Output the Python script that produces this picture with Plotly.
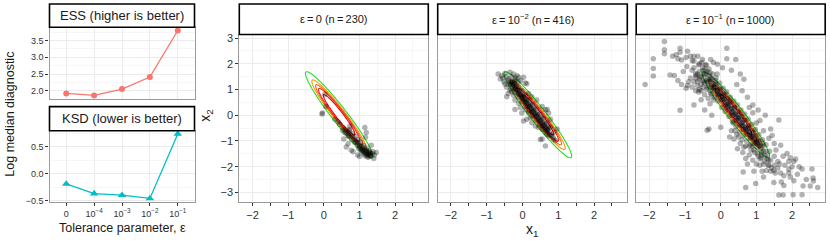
import numpy as np
import plotly.graph_objects as go

FONT = "Liberation Sans, Arial, Helvetica, sans-serif"

# ---------------- left panels: diagnostics ----------------
eps_pos = [0, 1, 2, 3, 4]
eps_labels = ["0", "10<sup>−4</sup>", "10<sup>−3</sup>", "10<sup>−2</sup>", "10<sup>−1</sup>"]
ess_values = [1.92, 1.86, 2.05, 2.41, 3.80]
ksd_values = [-0.19, -0.37, -0.40, -0.46, 0.74]

# ---------------- target distribution (contours) ----------------
target_mean = [0.43, 0.02]
target_sd = [0.315, 0.558]
target_rho = -0.96
contour_levels = [9.0, 5.9, 4.4, 3.4, 2.0]          # squared Mahalanobis distance
contour_colors = ["#22DD22", "#F29A0E", "#EE6A10", "#FF2020", "#E00000"]

panel_titles = ["ε\u2009=\u20090 (n\u2009=\u2009230)",
                "ε\u2009=\u200910<sup>−2</sup> (n\u2009=\u2009416)",
                "ε\u2009=\u200910<sup>−1</sup> (n\u2009=\u20091000)"]

# ---------------- samples, eps = 0 ----------------
p1_x = [0.03, -0.04, -0.05, 0.06, 0.31, 0.40, 0.45, 0.54, 0.73, 1.19, 1.15, 0.56, 0.63, 0.77, 0.68, 1.17, 1.38, 1.33, 1.00, 0.82, 1.28, 1.42, 1.47, 1.40, 0.95,
        0.60, 0.65, 0.70, 0.75, 0.80, 0.85, 0.90, 0.95, 1.00, 1.05, 1.10, 1.15, 1.20, 1.25, 1.30,
        0.62, 0.70, 0.78, 0.86, 0.94, 1.02, 1.10, 1.18, 1.26,
        0.72, 0.80, 0.88, 0.96, 1.04, 1.12, 1.20, 1.28, 1.36,
        1.08, 1.15, 1.22, 1.12, 1.25, 1.18, 1.30, 1.05, 0.98, 1.22,
        0.52, 0.58, 0.72, 0.68,
        1.10, 1.20, 1.28, 1.00, 0.90, 1.15, 1.32, 1.05]
p1_y = [0.81, 0.09, 0.05, 0.34, -0.16, -0.25, -0.35, -0.48, -0.42, -0.67, -0.48, -0.92, -1.24, -1.36, -1.11, -0.86, -1.42, -1.17, -1.61, -1.42, -1.55, -1.55, -1.45, -1.68, -1.55,
        -0.55, -0.62, -0.70, -0.78, -0.85, -0.92, -1.00, -1.08, -1.15, -1.22, -1.30, -1.37, -1.45, -1.50, -1.56,
        -0.70, -0.82, -0.95, -1.05, -1.18, -1.28, -1.40, -1.52, -1.62,
        -0.60, -0.72, -0.82, -0.95, -1.05, -1.18, -1.28, -1.38, -1.50,
        -1.35, -1.45, -1.55, -1.50, -1.42, -1.35, -1.48, -1.42, -1.30, -1.62,
        -0.58, -0.66, -0.55, -0.80,
        -1.25, -1.38, -1.48, -1.20, -1.05, -1.58, -1.60, -1.35]

# ---------------- samples, eps = 1e-2 ----------------
p2_x = ([-0.68, -0.58, -0.62, -0.49, -0.35, -0.25, -0.15, -0.11, 0.03, -0.21, -0.40, -0.49, -0.45, -0.35, -0.40,
         -0.30, -0.25, -0.55, -0.45, -0.38, -0.30, -0.20, -0.32, -0.22, -0.12, -0.05, 0.08, -0.52, -0.44, -0.21]
        + [-0.21, -0.11, -0.06, -0.02, 0.08, 0.17, 0.22, 0.12, 0.03, 0.26, 0.36, 0.45, 0.55, 0.64, 0.73, 0.87, 0.92, 0.55, 0.50, 0.64]
        + [0.17, 0.26, 0.40, 0.55, 0.64, 0.69, 0.73, 0.78, 0.97, 0.12]
        + [-0.35, -0.33, -0.30, -0.28, -0.25, -0.22, -0.20, -0.18, -0.15, -0.12, -0.10, -0.08, -0.05, -0.02, 0.00, 0.02,
           0.05, 0.07, 0.10, 0.12, 0.15, 0.17, 0.20, 0.22, 0.25, 0.27, 0.30, 0.32, 0.35, 0.37, 0.40, 0.42, 0.45, 0.47,
           0.50, 0.52, 0.55, 0.57, 0.60, 0.62, 0.65, 0.67, 0.70, 0.72, 0.75, 0.77, 0.80, 0.85]
        + [-0.40, -0.32, -0.22, -0.12, -0.02, 0.08, 0.18, 0.28, 0.38, 0.48, 0.58, 0.68]
        + [-0.22, -0.12, -0.02, 0.08, 0.18, 0.28, 0.38, 0.48, 0.58, 0.68, 0.78, 0.88]
        + [-0.28, -0.18, -0.08, 0.02, 0.12, 0.22, 0.32, 0.42, 0.52, 0.62, 0.72]
        + [-0.30, -0.20, -0.10, 0.00, 0.10, 0.20, 0.30, 0.40, 0.50, 0.60, 0.70,
           -0.25, -0.15, -0.05, 0.05, 0.15, 0.25, 0.35, 0.45, 0.55, 0.65])
p2_y = ([1.60, 1.54, 1.41, 1.62, 1.67, 1.60, 1.54, 1.48, 1.48, 1.35, 1.35, 1.22, 1.10, 0.97, 0.85,
         0.91, 0.78, 1.45, 1.50, 1.42, 1.50, 1.45, 1.28, 1.22, 1.30, 1.35, 1.25, 1.30, 0.72, 0.22]
        + [0.59, 0.47, 0.30, 0.09, 0.21, 0.09, -0.10, -0.16, -0.22, -0.29, -0.42, -0.48, -0.54, -0.67, -0.80, -0.92, -0.98, -0.92, -0.94, -1.20]
        + [0.85, 0.72, 0.59, 0.34, 0.21, 0.22, 0.09, -0.16, -0.54, 1.23]
        + [1.30, 1.20, 1.25, 1.12, 1.18, 1.05, 1.00, 1.10, 0.98, 0.88, 0.82, 0.93, 0.80, 0.70, 0.65, 0.74,
           0.62, 0.52, 0.48, 0.56, 0.44, 0.35, 0.30, 0.38, 0.25, 0.15, 0.12, 0.20, 0.06, -0.04, -0.06, 0.02, -0.12, -0.22,
           -0.25, -0.16, -0.30, -0.40, -0.43, -0.34, -0.48, -0.58, -0.60, -0.52, -0.66, -0.76, -0.78, -0.85]
        + [1.20, 1.02, 0.88, 0.70, 0.52, 0.35, 0.16, -0.02, -0.20, -0.38, -0.56, -0.74]
        + [1.30, 1.12, 0.95, 0.78, 0.60, 0.42, 0.24, 0.06, -0.12, -0.30, -0.48, -0.66]
        + [1.30, 1.15, 0.98, 0.80, 0.62, 0.45, 0.28, 0.10, -0.08, -0.26, -0.44]
        + [1.20, 1.05, 0.85, 0.70, 0.52, 0.33, 0.15, -0.03, -0.20, -0.40, -0.55,
           1.25, 1.00, 0.78, 0.60, 0.40, 0.22, 0.05, -0.15, -0.33, -0.50])

# ---------------- samples, eps = 1e-1 (x, y) ----------------
p3_points = [
    # upper-left spread
    (-1.58, 2.87), (-1.58, 2.55), (-1.58, 2.39), (-1.89, 2.20), (-1.89, 1.82), (-1.89, 1.53), (-2.12, 1.20),
    (-1.14, 2.61), (-1.14, 2.45), (-0.93, 2.49), (-1.20, 2.20), (-1.10, 2.15), (-0.97, 2.25), (-0.85, 2.30),
    (-0.80, 2.12), (-0.75, 2.30), (-0.75, 2.11), (-0.51, 2.17), (-0.28, 2.17), (-0.09, 1.98), (0.17, 2.61),
    (0.17, 2.20), (0.42, 2.17), (-1.42, 1.57), (-1.30, 1.55), (-1.20, 1.35), (-1.10, 1.20), (-0.97, 1.05),
    (-0.93, 1.16), (-0.70, 1.61), (-0.65, 1.30), (-0.60, 1.00), (-0.55, 1.20), (-0.62, 0.90), (-1.14, 0.19),
    (-0.33, -0.54), (-0.38, -0.58), (0.00, -0.47), (-1.35, 2.30), (-1.25, 2.35), (-0.60, 2.00), (-0.40, 1.95),
    (-0.20, 2.05), (0.05, 1.85), (0.30, 1.75), (0.55, 1.60), (0.65, 1.40), (-0.80, 1.75), (-0.95, 1.90),
    (-1.05, 1.70), (-0.70, 1.45), (0.45, 1.20), (0.60, 0.95), (-0.55, 0.60), (-0.75, 0.40), (-0.45, 0.20),
    (-0.25, 0.00), (0.75, 0.70), (0.90, 0.40), (1.05, 0.20), (1.25, 0.00),
    (-0.85, 1.45), (-0.75, 1.30), (-0.70, 1.55), (-0.65, 1.15), (-0.60, 1.40), (-0.80, 1.10), (-0.55, 0.95),
    (-0.50, 1.35), (-0.45, 0.80), (-0.70, 0.95), (-0.90, 1.30), (-0.40, 1.00), (-0.60, 1.70), (-0.75, 1.85),
    (-0.35, 0.65), (-0.30, 0.45),
    (-0.50, 1.10), (-0.45, 1.25), (-0.40, 1.35), (-0.35, 1.15), (-0.30, 0.95), (-0.25, 0.80), (-0.48, 1.60),
    (-0.55, 1.50), (-0.38, 1.70), (-0.20, 0.60), (-0.65, 1.60), (-0.50, 1.85), (-0.30, 1.65), (-0.15, 1.35),
    (-0.10, 1.60),
    # lower-right spread
    (1.63, -0.19), (1.40, -0.54), (1.44, -0.79), (1.68, -1.17), (1.86, -1.49), (1.95, -1.65), (2.05, -1.80),
    (2.10, -1.70), (1.91, -1.80), (2.28, -2.09), (2.56, -2.09), (2.59, -2.44), (2.60, -2.56), (2.72, -2.81),
    (2.51, -2.75), (2.31, -2.75), (2.28, -3.09), (2.03, -3.09), (1.75, -3.10), (1.63, -3.10), (1.77, -2.73),
    (1.49, -2.62), (0.98, -2.66), (0.70, -2.81), (0.63, -2.21), (0.93, -2.18), (1.16, -2.18), (1.28, -2.15),
    (1.40, -2.18), (1.49, -2.15), (1.68, -2.25), (1.77, -2.35), (1.91, -2.25), (1.91, -2.10), (1.95, -2.40),
    (2.05, -2.55), (2.15, -2.30), (2.40, -2.50), (2.00, -2.00), (1.80, -1.95), (1.60, -1.80), (1.50, -1.60),
    (1.35, -1.95), (1.20, -1.90), (1.10, -1.70), (1.55, -1.35), (1.75, -1.60), (2.20, -2.00), (1.20, -2.40),
    (1.70, -2.60),
    (0.30, -0.60), (0.37, -0.92), (0.47, -1.30), (0.70, -1.68), (0.55, -1.10), (0.62, -1.45), (0.80, -1.55),
    (0.90, -1.75), (1.00, -1.90), (0.45, -0.75), (0.25, -0.85), (0.65, -1.25), (0.85, -1.35), (1.10, -1.95),
    (0.75, -1.90), (0.90, 0.10), (1.00, -0.30), (1.20, -0.60), (1.10, -0.20), (1.35, -0.90), (1.50, -1.10),
    (0.80, 0.30),
    (0.35, -0.30), (0.40, -0.60), (0.50, -0.85), (0.60, -0.95), (0.70, -1.20), (0.80, -1.20), (0.95, -1.45),
    (1.05, -1.60), (1.15, -1.55), (1.25, -1.40), (1.30, -1.70), (0.90, -1.20),
    # main band
    (-0.62, 1.95), (-0.58, 1.50), (-0.64, 2.30),
    (-0.50, 1.75), (-0.47, 1.30), (-0.53, 2.05), (-0.45, 1.55),
    (-0.41, 1.60), (-0.38, 1.10), (-0.43, 1.95), (-0.36, 1.40), (-0.44, 1.75),
    (-0.30, 1.30), (-0.28, 0.85), (-0.33, 1.80), (-0.26, 1.10), (-0.32, 1.55),
    (-0.21, 1.20), (-0.18, 0.70), (-0.22, 1.60), (-0.16, 0.95), (-0.24, 1.40), (-0.19, 1.05),
    (-0.10, 1.00), (-0.08, 0.55), (-0.13, 1.45), (-0.06, 0.80), (-0.12, 1.20), (-0.09, 0.90),
    (0.00, 0.82), (0.03, 0.30), (-0.03, 1.25), (0.04, 0.60), (-0.02, 1.05), (0.01, 0.70),
    (0.10, 0.60), (0.12, 0.15), (0.07, 1.05), (0.14, 0.40), (0.08, 0.85), (0.11, 0.50),
    (0.20, 0.45), (0.23, -0.05), (0.17, 0.90), (0.24, 0.20), (0.18, 0.65), (0.21, 0.35),
    (0.30, 0.25), (0.33, -0.25), (0.27, 0.70), (0.34, 0.00), (0.28, 0.50), (0.31, 0.15),
    (0.40, 0.05), (0.43, -0.45), (0.37, 0.55), (0.44, -0.20), (0.38, 0.30), (0.41, -0.05),
    (0.50, -0.10), (0.53, -0.65), (0.47, 0.40), (0.54, -0.35), (0.48, 0.15), (0.51, -0.20),
    (0.60, -0.30), (0.63, -0.80), (0.57, 0.20), (0.64, -0.55), (0.58, -0.05), (0.61, -0.40),
    (0.70, -0.45), (0.73, -1.00), (0.67, 0.05), (0.74, -0.75), (0.68, -0.20), (0.71, -0.55),
    (0.80, -0.65), (0.83, -1.15), (0.77, -0.15), (0.84, -0.90), (0.78, -0.40), (0.81, -0.75),
    (0.90, -0.85), (0.93, -1.35), (0.87, -0.35), (0.94, -1.10), (0.88, -0.60), (0.91, -0.95),
    (1.00, -1.00), (1.03, -1.50), (0.97, -0.55), (1.04, -1.25), (0.98, -0.80), (1.01, -1.10),
    (1.10, -1.20), (1.13, -1.65), (1.07, -0.75), (1.14, -1.45), (1.08, -1.00),
    (1.20, -1.40), (1.23, -1.80), (1.17, -0.95), (1.24, -1.60), (1.18, -1.20),
    (1.30, -1.55), (1.33, -1.95), (1.27, -1.15), (1.34, -1.75),
    (1.40, -1.75), (1.43, -2.05), (1.37, -1.40),
    (1.50, -1.95), (1.53, -2.25), (1.60, -2.05), (1.65, -1.90),
    # dense core
    (-0.30, 1.38), (-0.25, 1.22), (-0.20, 1.12), (-0.15, 1.10), (-0.10, 0.95), (-0.05, 0.86), (0.00, 0.78),
    (0.05, 0.73), (0.10, 0.64), (0.15, 0.50), (0.20, 0.42), (0.25, 0.37), (0.30, 0.27), (0.35, 0.12),
    (0.40, 0.09), (0.45, 0.00), (0.50, -0.13), (0.55, -0.16), (0.60, -0.27), (0.65, -0.42), (0.70, -0.49),
    (0.75, -0.53), (0.80, -0.68), (0.85, -0.78), (0.90, -0.82), (0.95, -0.90), (1.00, -1.04), (1.05, -1.15),
    (1.10, -1.18),
    (-0.35, 1.30), (-0.28, 1.45), (-0.22, 1.05), (-0.15, 1.25), (-0.08, 0.80), (-0.02, 1.00), (0.05, 0.62),
    (0.12, 0.80), (0.18, 0.30), (0.25, 0.55), (0.32, 0.10), (0.38, 0.28), (0.45, -0.10), (0.52, 0.05),
    (0.58, -0.40), (0.65, -0.20), (0.72, -0.62), (0.78, -0.50), (0.85, -0.85), (0.92, -0.68), (0.98, -1.05),
    (1.05, -0.95), (1.12, -1.30), (1.18, -1.10),
]

# ---------------- axis layout (pixel geometry of the 830x244 canvas) ----------------
W, H = 830, 244


def fx(p):
    return p / W


def fy(p):
    return 1 - p / H


AX_LINE = "#9a9a9a"
GRID = "#ebebeb"
MINOR_GRID = "#f6f6f6"
TICK_FONT = dict(family=FONT, size=9, color="#333333")
SC_TICK_FONT = dict(family=FONT, size=11, color="#333333")

fig = go.Figure()

# left: ESS / KSD
fig.add_trace(go.Scatter(x=eps_pos, y=ess_values, mode="lines+markers", xaxis="x", yaxis="y",
                         line=dict(color="#F8766D", width=1.3),
                         marker=dict(color="#F8766D", size=6, symbol="circle"), showlegend=False))
fig.add_trace(go.Scatter(x=eps_pos, y=ksd_values, mode="lines+markers", xaxis="x2", yaxis="y2",
                         line=dict(color="#00BFC4", width=1.3),
                         marker=dict(color="#00BFC4", size=7.5, symbol="triangle-up"), showlegend=False))

# contour grid of the target density
gx = np.linspace(-2.5, 3.1, 360)
gy = np.linspace(-3.5, 3.3, 360)
GX, GY = np.meshgrid(gx, gy)
dx = (GX - target_mean[0]) / target_sd[0]
dy = (GY - target_mean[1]) / target_sd[1]
Z = (dx ** 2 - 2 * target_rho * dx * dy + dy ** 2) / (1 - target_rho ** 2)

samples = [(p1_x, p1_y), (p2_x, p2_y), ([p[0] for p in p3_points], [p[1] for p in p3_points])]
for i, (sx, sy) in enumerate(samples):
    xa, ya = "x%d" % (i + 3), "y%d" % (i + 3)
    fig.add_trace(go.Scatter(x=sx, y=sy, mode="markers", xaxis=xa, yaxis=ya, showlegend=False,
                             marker=dict(color="black", opacity=0.3, size=5.5, line=dict(width=0)),
                             hoverinfo="skip"))
    for lv, col in zip(contour_levels, contour_colors):
        fig.add_trace(go.Contour(x=gx, y=gy, z=Z, xaxis=xa, yaxis=ya, autocontour=False,
                                 contours=dict(start=lv, end=lv, size=1, coloring="none"),
                                 line=dict(color=col, width=1.1, smoothing=1),
                                 showscale=False, hoverinfo="skip", showlegend=False))

common = dict(showline=True, mirror=True, linecolor=AX_LINE, linewidth=1.2, zeroline=False,
              gridcolor=GRID, gridwidth=1, ticks="outside", ticklen=3, tickcolor="#333333", tickwidth=1)

left_xdom = [fx(49.5), fx(194.5)]
layout = dict(
    width=W, height=H, margin=dict(l=0, r=0, t=0, b=0), autosize=False,
    paper_bgcolor="white", plot_bgcolor="white", showlegend=False,
    font=dict(family=FONT, color="#222222"),
    xaxis=dict(domain=left_xdom, range=[-0.6, 4.6], anchor="y", tickvals=eps_pos, ticktext=eps_labels,
               showticklabels=False, **{**common, "ticks": ""}),
    yaxis=dict(domain=[fy(98.5), fy(25)], range=[1.763, 3.897], anchor="x", tickvals=[2.0, 2.5, 3.0, 3.5],
               tickformat=".1f", tickfont=TICK_FONT,
               minor=dict(tickvals=[1.75, 2.25, 2.75, 3.25, 3.75], showgrid=True, gridcolor=MINOR_GRID, ticks=""),
               **common),
    xaxis2=dict(domain=left_xdom, range=[-0.6, 4.6], anchor="y2", tickvals=eps_pos, ticktext=eps_labels,
                tickfont=TICK_FONT, **common),
    yaxis2=dict(domain=[fy(204.5), fy(131.5)], range=[-0.52, 0.80], anchor="x2", tickvals=[-0.5, 0.0, 0.5],
                tickformat=".1f", tickfont=TICK_FONT,
                minor=dict(tickvals=[-0.25, 0.25, 0.75], showgrid=True, gridcolor=MINOR_GRID, ticks=""),
                **common),
)

sc_xdoms = [[fx(239.3), fx(428.3)], [fx(437.7), fx(627.3)], [fx(636.2), fx(825.2)]]
sc_ydom = [fy(205), fy(33)]
for i, dom in enumerate(sc_xdoms):
    n = i + 3
    layout["xaxis%d" % n] = dict(domain=dom, range=[-2.37, 2.93], anchor="y%d" % n,
                                 tickvals=[-2, -1, 0, 1, 2], tickfont=SC_TICK_FONT,
                                 minor=dict(tickvals=[-1.5, -0.5, 0.5, 1.5, 2.5], ticks="outside", ticklen=3,
                                            tickcolor="#333333", showgrid=True, gridcolor=MINOR_GRID),
                                 **common)
    layout["yaxis%d" % n] = dict(domain=sc_ydom, range=[-3.38, 3.12], anchor="x%d" % n,
                                 tickvals=[-3, -2, -1, 0, 1, 2, 3], tickfont=SC_TICK_FONT,
                                 showticklabels=(i == 0),
                                 minor=dict(tickvals=[-2.5, -1.5, -0.5, 0.5, 1.5, 2.5], ticks="",
                                            showgrid=True, gridcolor=MINOR_GRID),
                                 **{**common, "ticks": "outside" if i == 0 else ""})

# strips
strips = [
    (49.5, 194.5, 1, 25, "ESS (higher is better)", 13),
    (49.5, 194.5, 106.7, 131.5, "KSD (lower is better)", 13),
]
for i, dom in enumerate(sc_xdoms):
    strips.append((dom[0] * W, dom[1] * W, 1, 32.5, panel_titles[i], 11))

shapes, annotations = [], []
for x0, x1, y0, y1, txt, fs in strips:
    shapes.append(dict(type="rect", xref="paper", yref="paper", x0=fx(x0), x1=fx(x1), y0=fy(y1), y1=fy(y0),
                       line=dict(color="black", width=1.6), fillcolor="white", layer="above"))
    annotations.append(dict(xref="paper", yref="paper", x=fx((x0 + x1) / 2), y=fy((y0 + y1) / 2), text=txt,
                            showarrow=False, xanchor="center", yanchor="middle",
                            font=dict(family=FONT, size=fs, color="#1a1a1a")))

annotations += [
    dict(xref="paper", yref="paper", x=fx(10), y=fy(115), text="Log median diagnostic", textangle=-90,
         showarrow=False, xanchor="center", yanchor="middle", font=dict(family=FONT, size=12.5, color="#1a1a1a")),
    dict(xref="paper", yref="paper", x=fx(122), y=fy(232), text="Tolerance parameter, ε",
         showarrow=False, xanchor="center", yanchor="middle", font=dict(family=FONT, size=12.5, color="#1a1a1a")),
    dict(xref="paper", yref="paper", x=fx(206), y=fy(116), text="x<sub>2</sub>", textangle=-90,
         showarrow=False, xanchor="center", yanchor="middle", font=dict(family=FONT, size=14, color="#1a1a1a")),
    dict(xref="paper", yref="paper", x=fx(532), y=fy(234), text="x<sub>1</sub>",
         showarrow=False, xanchor="center", yanchor="middle", font=dict(family=FONT, size=14, color="#1a1a1a")),
]

layout["shapes"] = shapes
layout["annotations"] = annotations
fig.update_layout(**layout)

fig.write_html("out.html", config={"displayModeBar": False},
               post_script="document.body.style.margin='0';")
